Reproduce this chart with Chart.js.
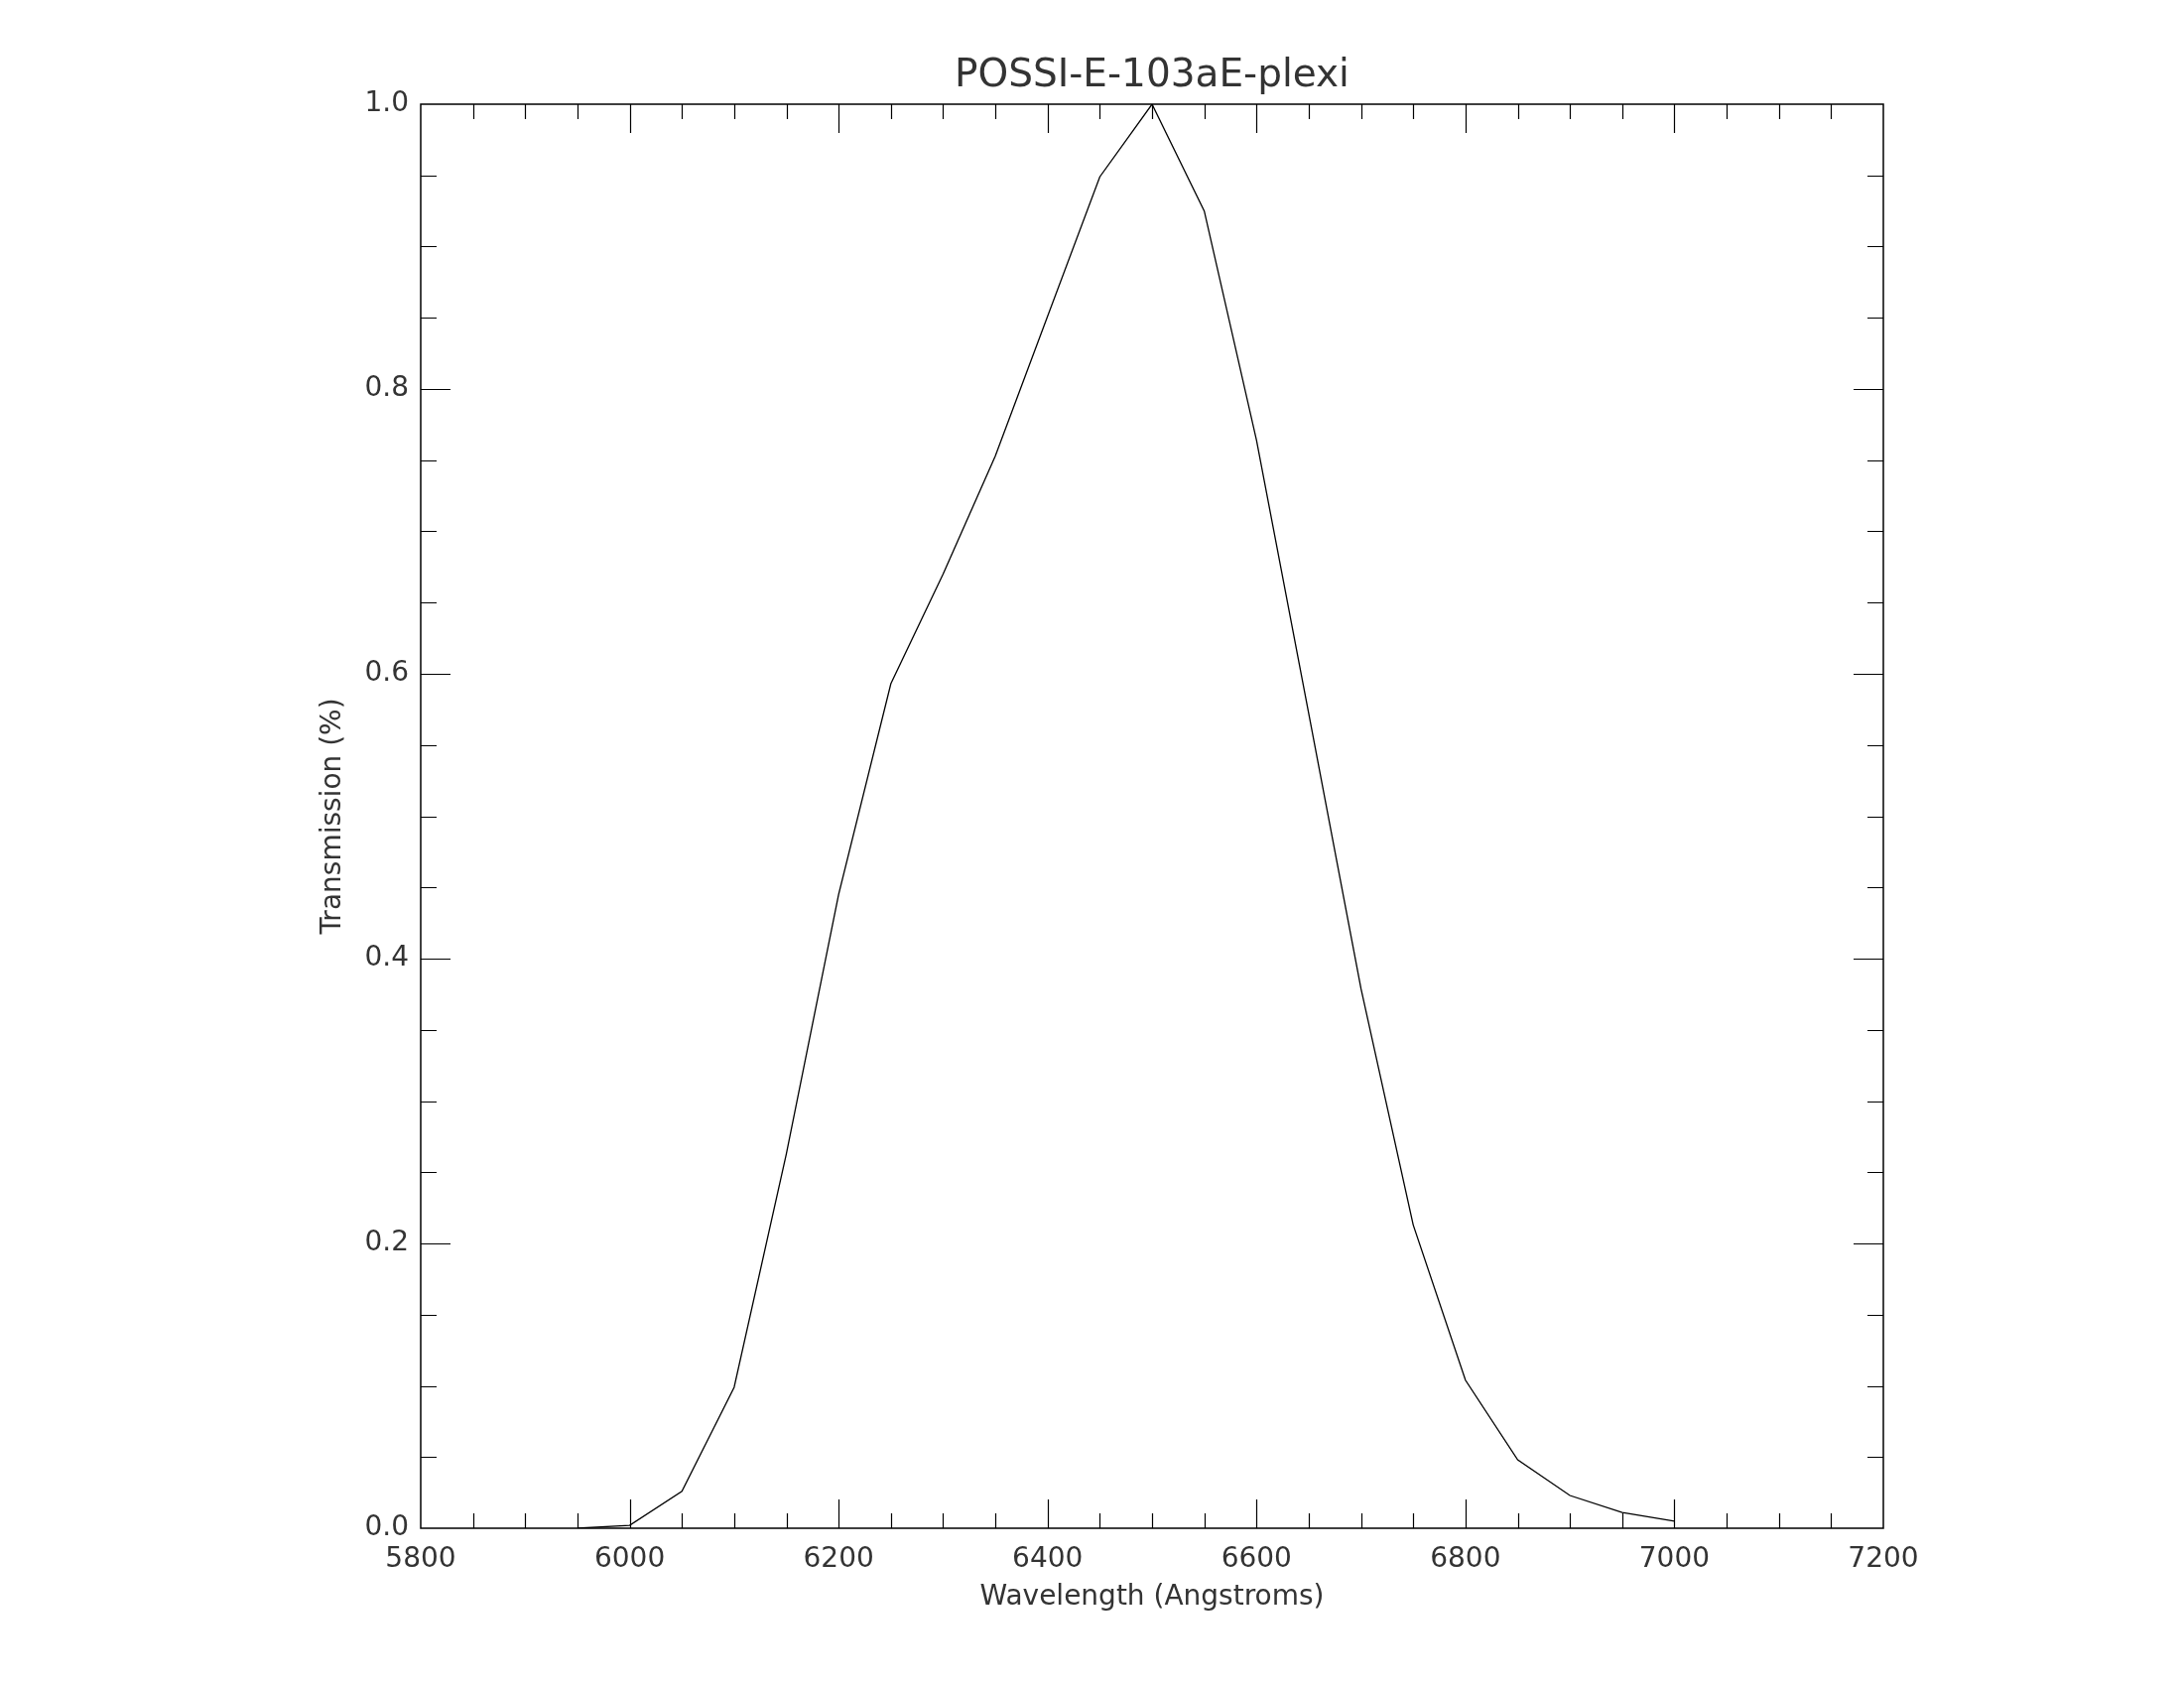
<!DOCTYPE html>
<html>
<head>
<meta charset="utf-8">
<title>POSSI-E-103aE-plexi</title>
<script src="https://cdn.jsdelivr.net/npm/chart.js@4.4.0/dist/chart.umd.min.js"></script>
<style>
  html, body { margin: 0; padding: 0; background: #fff; overflow: hidden; }
  canvas { display: block; }
</style>
</head>
<body>
<canvas id="filterChart" width="2201" height="1701"></canvas>
<script>
// filter curve, one sample every 50 Angstroms
const wavelengths = [5950, 6000, 6050, 6100, 6150, 6200, 6250, 6300, 6350, 6400, 6450,
                     6500, 6550, 6600, 6650, 6700, 6750, 6800, 6850, 6900, 6950, 7000];
const transmission = [0.000, 0.002, 0.026, 0.099, 0.263, 0.445, 0.593, 0.670, 0.753, 0.851, 0.949,
                      1.000, 0.925, 0.764, 0.572, 0.379, 0.213, 0.104, 0.048, 0.023, 0.011, 0.005];

const xTickLabels = ["5800", "6000", "6200", "6400", "6600", "6800", "7000", "7200"];
const yTickLabels = ["0.0", "0.2", "0.4", "0.6", "0.8", "1.0"];

const ctx = document.getElementById("filterChart");
const ink = "#333";

Chart.defaults.font.family = "'DejaVu Sans', sans-serif";
Chart.defaults.color = ink;

// IDL style box with inward ticks on all four sides
const idlFrame = {
  id: "idlFrame",
  afterDraw(chart) {
    const { ctx, chartArea: a, scales: { x, y } } = chart;
    ctx.save();
    ctx.strokeStyle = "#000";
    ctx.lineWidth = 1.5;
    ctx.strokeRect(a.left, a.top, a.right - a.left, a.bottom - a.top);

    ctx.lineWidth = 1.2;
    ctx.beginPath();
    const nx = Math.round((x.max - x.min) / 50);
    for (let i = 1; i < nx; i++) {
      const px = Math.round(x.getPixelForValue(x.min + i * 50)) + 0.5;
      const len = i % 4 === 0 ? 29 : 15;
      ctx.moveTo(px, a.bottom); ctx.lineTo(px, a.bottom - len);
      ctx.moveTo(px, a.top); ctx.lineTo(px, a.top + len);
    }
    const ny = Math.round((y.max - y.min) / 0.05);
    for (let i = 1; i < ny; i++) {
      const py = Math.round(y.getPixelForValue(y.min + i * 0.05)) + 0.5;
      const len = i % 4 === 0 ? 30 : 16;
      ctx.moveTo(a.left, py); ctx.lineTo(a.left + len, py);
      ctx.moveTo(a.right, py); ctx.lineTo(a.right - len, py);
    }
    ctx.stroke();
    ctx.restore();
  }
};

new Chart(ctx, {
  type: "line",
  data: {
    datasets: [{
      data: wavelengths.map((w, i) => ({ x: w, y: transmission[i] })),
      borderColor: "#000",
      borderWidth: 1.3,
      pointRadius: 0,
      tension: 0,
      fill: false
    }]
  },
  options: {
    responsive: false,
    animation: false,
    events: [],
    layout: { padding: { left: 0, right: 303, top: 0, bottom: 0 } },
    plugins: {
      legend: { display: false },
      tooltip: { enabled: false },
      title: {
        display: true,
        text: "POSSI-E-103aE-plexi",
        fullSize: false,
        color: ink,
        font: { size: 39, weight: "normal" },
        padding: { top: 53.6, bottom: 4.6 }
      }
    },
    scales: {
      x: {
        type: "linear",
        min: 5800,
        max: 7200,
        afterFit(s) { s.height = 161; },
        grid: { display: false, drawTicks: false },
        border: { display: false },
        ticks: {
          stepSize: 200,
          autoSkip: false,
          maxRotation: 0,
          padding: 15,
          font: { size: 28 },
          callback: (v) => xTickLabels[Math.round((v - 5800) / 200)]
        },
        title: {
          display: true,
          text: "Wavelength (Angstroms)",
          font: { size: 28 },
          padding: { top: 0, bottom: 74 }
        }
      },
      y: {
        min: 0,
        max: 1,
        afterFit(s) { s.width = 424; },
        grid: { display: false, drawTicks: false },
        border: { display: false },
        ticks: {
          stepSize: 0.2,
          autoSkip: false,
          padding: 12,
          font: { size: 28 },
          callback: (v) => yTickLabels[Math.round(v / 0.2)]
        },
        title: {
          display: true,
          text: "Transmission (%)",
          font: { size: 28 },
          padding: { top: 319, bottom: 0 }
        }
      }
    }
  },
  plugins: [idlFrame]
});
</script>
</body>
</html>
